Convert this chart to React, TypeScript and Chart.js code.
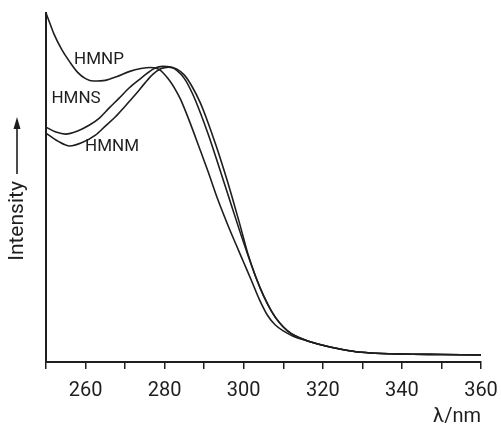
import React, { useEffect, useRef } from "react";
import { Chart, registerables } from "chart.js";

Chart.register(...registerables);

// Wavelength (nm) / relative intensity
const hmnpX = [250, 251, 252, 254, 256, 258, 260, 262, 265, 268, 271, 274, 276.5, 278.5, 281, 283, 284, 286, 289, 291, 293.5, 296, 298, 300, 302, 304, 306, 308, 310, 312.5, 316, 320, 324, 328, 332, 340, 350, 360];
const hmnpY = [100, 97, 94, 89.5, 86, 83, 81.2, 80.5, 80.7, 81.8, 83.2, 84.1, 84.4, 83.9, 81, 77.5, 75.3, 69.8, 60.7, 54.5, 46.4, 39.2, 33.8, 28.5, 23.2, 17.8, 13.4, 10.6, 8.9, 7.4, 6.1, 4.8, 3.8, 3.0, 2.6, 2.3, 2.15, 2.0];

const hmnsX = [250, 252.5, 255, 258, 261, 263.5, 266, 268.5, 271, 274, 276, 277.5, 279.5, 281.5, 283, 285, 287, 289, 291, 293, 295, 297, 299, 301, 303, 305, 307, 309, 311, 313, 316, 320, 324, 328, 332, 340, 350, 360];
const hmnsY = [67.3, 65.9, 65.3, 66.2, 67.9, 69.9, 72.8, 75.6, 78.5, 81.3, 83.1, 84.2, 84.7, 84.5, 83.6, 81.2, 77.0, 71.5, 65.3, 58.5, 51.5, 44.5, 37.5, 30.8, 24.5, 19.0, 14.6, 11.3, 9.0, 7.5, 6.1, 4.8, 3.8, 3.0, 2.6, 2.3, 2.15, 2.0];

const hmnmX = [250, 253, 256, 259, 262.5, 265, 267.5, 270, 272.5, 275, 277, 279, 281, 283, 285, 287, 289, 291, 293, 295, 297, 299, 301, 303, 305, 307, 309, 311, 313, 316, 320, 324, 328, 332, 340, 350, 360];
const hmnmY = [65.6, 63.3, 61.9, 62.8, 65.0, 67.6, 70.2, 73.3, 76.5, 79.9, 82.4, 84.0, 84.5, 84.0, 82.2, 78.8, 74.3, 68.5, 62.0, 55.0, 47.5, 39.5, 31.2, 24.5, 19.0, 14.6, 11.3, 9.0, 7.5, 6.1, 4.8, 3.8, 3.0, 2.6, 2.3, 2.15, 2.0];

const seriesNames = ["HMNP", "HMNS", "HMNM"];
// label anchor positions in data units (nm, intensity)
const labelX = [263.4, 257.6, 266.7];
const labelY = [86.5, 75.4, 61.6];

const tickLabels = [260, 280, 300, 320, 340, 360];
const xTitle = "λ/nm";
const yTitle = "Intensity";

const INK = "#1e1e1e";

function pts(xs: number[], ys: number[]) {
  return xs.map((x, i) => ({ x, y: ys[i] }));
}

const annotations = {
  id: "annotations",
  afterDraw(chart: any) {
    const ctx = chart.ctx;
    const xs = chart.scales.x;
    const ys = chart.scales.y;
    ctx.save();
    ctx.fillStyle = INK;
    ctx.font = "17px Roboto";
    ctx.textAlign = "center";
    ctx.textBaseline = "middle";
    seriesNames.forEach((n, i) => {
      ctx.fillText(n, xs.getPixelForValue(labelX[i]), ys.getPixelForValue(labelY[i]));
    });
    // y title, rotated, with arrow
    ctx.save();
    ctx.translate(18, 221);
    ctx.rotate(-Math.PI / 2);
    ctx.font = "21px Roboto";
    ctx.fillText(yTitle, 0, 0);
    ctx.restore();
    ctx.strokeStyle = INK;
    ctx.lineWidth = 1.6;
    ctx.beginPath();
    ctx.moveTo(17, 174);
    ctx.lineTo(17, 126);
    ctx.stroke();
    ctx.beginPath();
    ctx.moveTo(17, 117);
    ctx.lineTo(13.5, 129);
    ctx.lineTo(20.5, 129);
    ctx.closePath();
    ctx.fill();
    ctx.restore();
  },
};

export default function App() {
  const ref = useRef<HTMLCanvasElement>(null);
  useEffect(() => {
    if (!ref.current) return;
    const ds = (label: string, xs: number[], ys: number[]) => ({
      label,
      data: pts(xs, ys),
      borderColor: INK,
      borderWidth: 1.6,
      pointRadius: 0,
      fill: false,
      tension: 0.4,
      cubicInterpolationMode: "monotone" as const,
      clip: false as any,
    });
    const chart = new Chart(ref.current, {
      type: "line",
      data: {
        datasets: [
          ds(seriesNames[0], hmnpX, hmnpY),
          ds(seriesNames[1], hmnsX, hmnsY),
          ds(seriesNames[2], hmnmX, hmnmY),
        ],
      },
      options: {
        responsive: false,
        animation: false,
        devicePixelRatio: 1,
        layout: { padding: { left: 46, top: 13, right: 20, bottom: 0 } },
        plugins: { legend: { display: false }, tooltip: { enabled: false } },
        scales: {
          x: {
            type: "linear",
            min: 250,
            max: 360,
            afterFit: (s: any) => {
              s.height = 63;
              s.paddingLeft = 0;
              s.paddingRight = 0;
            },
            border: { display: true, color: INK, width: 2 },
            grid: { display: true, drawOnChartArea: false, drawTicks: true, tickLength: 7, color: INK, lineWidth: 1.5 },
            ticks: {
              stepSize: 10,
              autoSkip: false,
              maxRotation: 0,
              padding: 10,
              color: INK,
              font: { family: "Roboto", size: 20, lineHeight: 1.2 },
              callback: (v: any) => (tickLabels.includes(Number(v)) ? String(v) : ""),
            },
            title: {
              display: true,
              text: xTitle,
              align: "end",
              color: INK,
              font: { family: "Roboto", size: 20, lineHeight: 1.0 },
              padding: { top: 0, bottom: -2 },
            },
          },
          y: {
            type: "linear",
            min: 0,
            max: 100,
            afterFit: (s: any) => {
              s.width = 0;
              s.paddingTop = 0;
              s.paddingBottom = 0;
            },
            border: { display: true, color: INK, width: 2 },
            grid: { display: false },
            ticks: { display: false },
          },
        },
      },
      plugins: [annotations],
    });
    return () => chart.destroy();
  }, []);
  return (
    <div style={{ position: "absolute", left: 0, top: 0, width: 501, height: 425, background: "#fff" }}>
      <canvas ref={ref} width={501} height={425} style={{ width: 501, height: 425, display: "block" }} />
    </div>
  );
}
